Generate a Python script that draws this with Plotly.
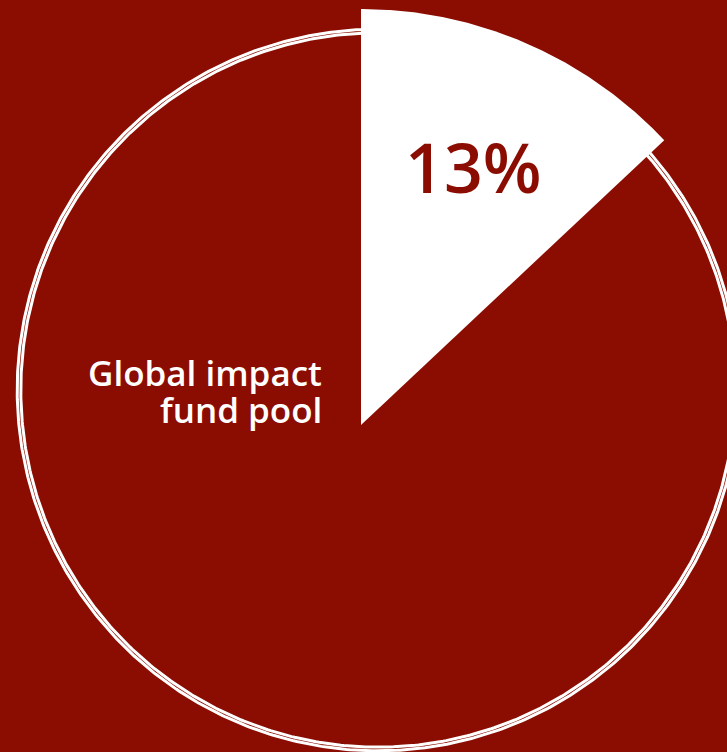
import numpy as np
import plotly.graph_objects as go

# ---- data ----
share_values = [13, 87]            # percent: highlighted share, rest of pool
share_labels = ["13%", "Global impact fund pool"]
label_lines = ["Global impact", "fund pool"]

# ---- style / geometry ----
RED = "#8B0C01"
W, H = 727, 752
pool_cx, pool_cy, pool_r = 378, 390, 359      # big circle (pool)
wedge_cx, wedge_cy, wedge_r = 361, 425, 416   # highlighted wedge

fig = go.Figure()

# pool circle outline (double white ring)
t = np.linspace(0, 2 * np.pi, 721)
for rr in (pool_r + 1.8, pool_r - 1.8):
    fig.add_trace(go.Scatter(
        x=pool_cx + rr * np.sin(t), y=pool_cy - rr * np.cos(t),
        mode="lines", line=dict(color="white", width=3),
        hoverinfo="skip", showlegend=False))

# highlighted wedge, angle from share value (clockwise from 12 o'clock)
frac = share_values[0] / sum(share_values)
th = np.linspace(0, 2 * np.pi * frac, 200)
wx = np.concatenate([[wedge_cx], wedge_cx + wedge_r * np.sin(th), [wedge_cx]])
wy = np.concatenate([[wedge_cy], wedge_cy - wedge_r * np.cos(th), [wedge_cy]])
fig.add_trace(go.Scatter(
    x=wx, y=wy, mode="lines", fill="toself", fillcolor="white",
    line=dict(color="white", width=0), hoverinfo="skip", showlegend=False))

# labels
fig.add_annotation(x=473, y=166, text=share_labels[0], showarrow=False,
                   xanchor="center", yanchor="middle",
                   font=dict(family="Open Sans", size=68, color=RED, weight=600))
fig.add_annotation(x=323, y=372, text=label_lines[0], showarrow=False,
                   xanchor="right", yanchor="middle", borderpad=0,
                   font=dict(family="Open Sans", size=35, color="white", weight=600))
fig.add_annotation(x=323, y=409, text=label_lines[1], showarrow=False,
                   xanchor="right", yanchor="middle", borderpad=0,
                   font=dict(family="Open Sans", size=35, color="white", weight=600))

fig.update_layout(
    width=W, height=H, margin=dict(l=0, r=0, t=0, b=0),
    paper_bgcolor=RED, plot_bgcolor=RED,
    xaxis=dict(range=[0, W], visible=False, fixedrange=True),
    yaxis=dict(range=[H, 0], visible=False, fixedrange=True),
    showlegend=False,
)

fig.write_html(
    "out.html", config={"displayModeBar": False},
    post_script="document.body.style.margin='0';document.body.style.background='%s';" % RED,
)
